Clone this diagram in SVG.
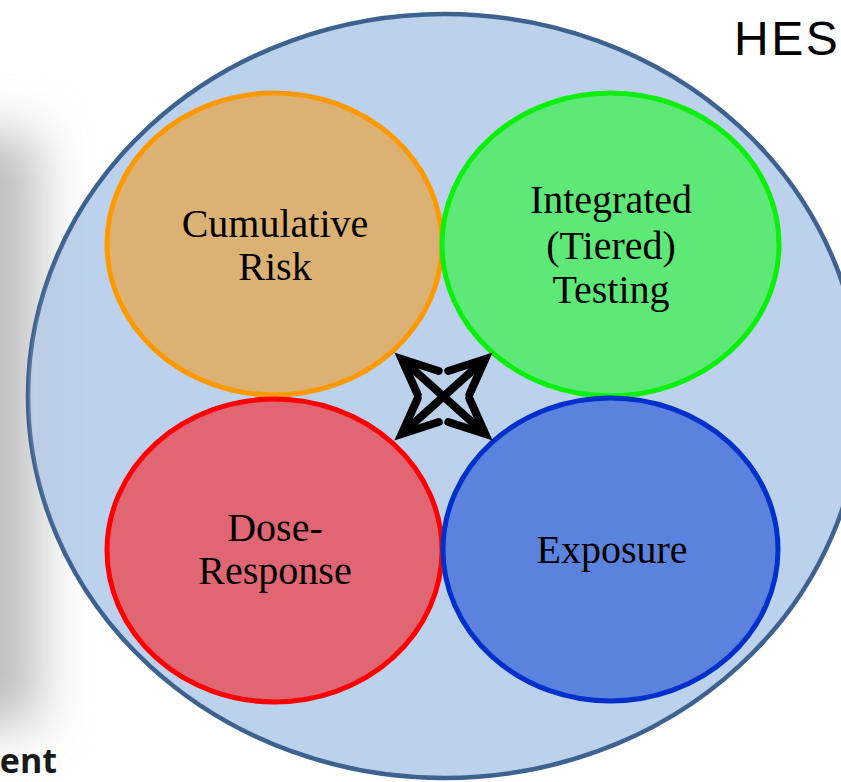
<svg xmlns="http://www.w3.org/2000/svg" width="841" height="782" viewBox="0 0 841 782">
  <defs>
    <filter id="soft" x="-100%" y="-30%" width="300%" height="160%">
      <feGaussianBlur stdDeviation="26"/>
    </filter>
    <clipPath id="outerClip">
      <ellipse cx="444.5" cy="396" rx="416.5" ry="382"/>
    </clipPath>
    <style>
      .label { font-family: "Liberation Serif", "Times New Roman", serif; font-size: 40px; fill: #000; text-anchor: middle; }
      .ring { stroke-width: 5; }
      .arrow { fill: none; stroke: #000; stroke-width: 8; stroke-linejoin: miter; stroke-miterlimit: 10; stroke-linecap: round; }
      .shaft { fill: none; stroke: #000; stroke-width: 8; stroke-linecap: butt; }
      .band { fill: #bdbdbd; }
    </style>
  </defs>

  <rect width="841" height="782" fill="#ffffff"/>

  <!-- soft grey band on the left edge -->
  <rect class="band" x="-70" y="135" width="108" height="590" filter="url(#soft)"/>

  <!-- outer container -->
  <g id="container">
    <ellipse cx="444.5" cy="396" rx="416.5" ry="382" fill="#bcd1ec" stroke="#3e6290" stroke-width="4.5"/>
  </g>
  <g clip-path="url(#outerClip)" opacity="0.3">
    <rect class="band" x="-70" y="135" width="108" height="590" filter="url(#soft)"/>
  </g>

  <g id="cumulative-risk">
    <ellipse class="ring" cx="274.5" cy="244" rx="167.5" ry="151" fill="#dcb274" stroke="#ff9900"/>
    <text class="label" x="275" y="237">Cumulative</text>
    <text class="label" x="275" y="280">Risk</text>
  </g>

  <g id="integrated-testing">
    <ellipse class="ring" cx="610.5" cy="244.5" rx="168.5" ry="151.5" fill="#5ee878" stroke="#0af00a"/>
    <text class="label" x="611" y="213">Integrated</text>
    <text class="label" x="611" y="259">(Tiered)</text>
    <text class="label" x="611" y="303">Testing</text>
  </g>

  <g id="dose-response">
    <ellipse class="ring" cx="274.5" cy="550.5" rx="167.5" ry="151.5" fill="#e06674" stroke="#ff0000"/>
    <text class="label" x="275" y="541">Dose-</text>
    <text class="label" x="275" y="584">Response</text>
  </g>

  <g id="exposure">
    <ellipse class="ring" cx="610.5" cy="549.5" rx="167.5" ry="151.5" fill="#5b82dc" stroke="#0030cc"/>
    <text class="label" x="612" y="563">Exposure</text>
  </g>

  <!-- crossing double-headed arrows between the four circles -->
  <g id="connectors">
    <line class="shaft" x1="401.7" y1="359" x2="485.3" y2="434"/>
    <line class="shaft" x1="485.3" y1="359" x2="401.7" y2="434"/>
    <polyline class="arrow" points="438.7,371 401.7,359 417.6,394.5"/>
    <polyline class="arrow" points="448.3,371 485.3,359 469.4,394.5"/>
    <polyline class="arrow" points="438.7,422 401.7,434 417.6,398.5"/>
    <polyline class="arrow" points="448.3,422 485.3,434 469.4,398.5"/>
  </g>

  <text x="734" y="55" font-family="Liberation Sans, Arial, sans-serif" font-size="48" letter-spacing="2.5" fill="#000">HES</text>
  <text x="57" y="773" font-family="Open Sans, sans-serif" font-weight="bold" font-size="34" fill="#1a1a1a" text-anchor="end">ent</text>
</svg>
